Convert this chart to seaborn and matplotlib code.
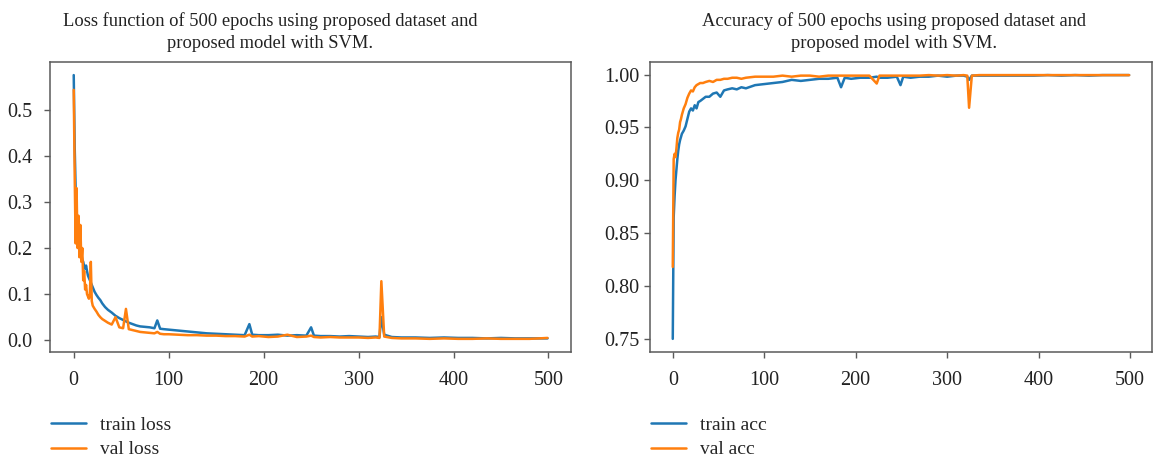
import matplotlib
matplotlib.use("Agg")
import matplotlib.pyplot as plt
import pandas as pd
import seaborn as sns

loss_epochs = [0, 1, 2, 3, 4, 5, 6, 7, 8, 9, 10, 11, 12, 13, 14, 15, 16, 17, 18, 19,
               20, 22, 24, 26, 28, 30, 33, 36, 40, 44, 48, 52, 55, 58, 62, 66, 70, 75,
               80, 85, 88, 91, 95, 100, 110, 120, 130, 140, 150, 160, 170, 180, 185,
               188, 195, 205, 215, 225, 235, 245, 250, 253, 260, 270, 280, 290, 300,
               310, 318, 322, 324, 327, 335, 345, 360, 375, 390, 405, 420, 435, 450,
               465, 480, 490, 499]
train_loss = [0.575, 0.42, 0.33, 0.28, 0.25, 0.23, 0.21, 0.195, 0.185, 0.175, 0.17,
              0.16, 0.155, 0.162, 0.15, 0.14, 0.135, 0.13, 0.125, 0.12,
              0.115, 0.105, 0.098, 0.092, 0.087, 0.08, 0.072, 0.066, 0.06, 0.053,
              0.048, 0.044, 0.041, 0.038, 0.035, 0.032, 0.03, 0.029,
              0.028, 0.026, 0.043, 0.025, 0.024, 0.023, 0.021, 0.019, 0.017, 0.015,
              0.014, 0.013, 0.012, 0.011, 0.035,
              0.012, 0.011, 0.011, 0.012, 0.010, 0.011, 0.010, 0.028, 0.010, 0.009,
              0.009, 0.008, 0.009, 0.008,
              0.007, 0.008, 0.007, 0.050, 0.012, 0.007, 0.006, 0.006, 0.005, 0.006,
              0.005, 0.005, 0.004, 0.005,
              0.004, 0.004, 0.004, 0.004]
val_loss = [0.543, 0.36, 0.21, 0.33, 0.20, 0.27, 0.18, 0.25, 0.17, 0.20, 0.13, 0.15,
            0.11, 0.12, 0.10, 0.095, 0.09, 0.10, 0.17, 0.085,
            0.075, 0.068, 0.062, 0.055, 0.05, 0.046, 0.042, 0.038, 0.034, 0.05,
            0.028, 0.026, 0.068, 0.024, 0.022, 0.02, 0.018, 0.017,
            0.016, 0.015, 0.018, 0.014, 0.013, 0.013, 0.012, 0.011, 0.011, 0.010,
            0.010, 0.009, 0.009, 0.008, 0.012,
            0.008, 0.009, 0.007, 0.008, 0.012, 0.007, 0.008, 0.010, 0.007, 0.006,
            0.007, 0.006, 0.006, 0.006,
            0.005, 0.006, 0.005, 0.128, 0.008, 0.005, 0.004, 0.004, 0.003, 0.004,
            0.003, 0.003, 0.004, 0.003,
            0.003, 0.003, 0.004, 0.005]

acc_epochs = [0, 1, 2, 3, 4, 5, 6, 7, 8, 9, 10, 12, 14, 16, 18, 20, 22, 24, 26, 28,
              30, 33, 36, 40, 44, 48, 52, 56, 60, 65, 70, 75, 80, 90, 100, 110, 120,
              130, 140, 150, 160, 170, 180, 184, 188, 195, 205, 215, 223, 226, 235,
              245, 249, 252, 260, 270, 280, 290, 300, 310, 318, 322, 324, 327, 335,
              350, 365, 380, 395, 410, 425, 440, 455, 470, 485, 499]
train_acc = [0.75, 0.865, 0.885, 0.90, 0.91, 0.92, 0.928, 0.934, 0.938, 0.941, 0.944,
             0.947, 0.951, 0.958, 0.965, 0.968, 0.966, 0.971, 0.968, 0.974,
             0.975, 0.977, 0.979, 0.979, 0.982, 0.983, 0.979, 0.985, 0.986, 0.987,
             0.986, 0.988, 0.987, 0.990, 0.991, 0.992, 0.993,
             0.995, 0.994, 0.995, 0.996, 0.996, 0.997, 0.988, 0.997, 0.996, 0.997,
             0.997, 0.998, 0.997, 0.997,
             0.998, 0.990, 0.998, 0.997, 0.998, 0.998, 0.999, 0.998, 0.999, 0.999,
             0.998, 0.995, 0.999, 0.999,
             0.999, 0.999, 0.999, 0.999, 0.9995, 0.999, 0.9995, 0.999, 0.9995,
             0.9995, 0.9995]
val_acc = [0.818, 0.92, 0.925, 0.922, 0.93, 0.94, 0.945, 0.948, 0.955, 0.958, 0.962,
           0.968, 0.972, 0.978, 0.982, 0.985, 0.984, 0.988, 0.990, 0.991,
           0.992, 0.992, 0.993, 0.994, 0.993, 0.995, 0.995, 0.996, 0.996, 0.997,
           0.997, 0.996, 0.997, 0.998, 0.998, 0.998, 0.999,
           0.998, 0.999, 0.999, 0.998, 0.999, 0.999, 0.999, 0.999, 0.999, 0.999,
           0.999, 0.9915, 0.999, 0.999,
           0.999, 0.999, 0.999, 0.999, 0.999, 0.9995, 0.999, 0.9995, 0.999, 0.9995,
           0.999, 0.9686, 0.999, 0.9995,
           0.9995, 0.9995, 0.9995, 0.9995, 0.9995, 0.9995, 0.9995, 0.9995, 0.9995,
           0.9995, 0.9995]

loss_ticks = [0.0, 0.1, 0.2, 0.3, 0.4, 0.5]
acc_ticks = [0.75, 0.80, 0.85, 0.90, 0.95, 1.00]
epoch_ticks = [0, 100, 200, 300, 400, 500]

loss_df = pd.DataFrame({"epoch": loss_epochs, "train loss": train_loss, "val loss": val_loss})
acc_df = pd.DataFrame({"epoch": acc_epochs, "train acc": train_acc, "val acc": val_acc})

sns.set_theme(style="ticks")
plt.rcParams["font.family"] = ["Liberation Serif", "DejaVu Serif"]
plt.rcParams["axes.edgecolor"] = "#5a5a5a"
plt.rcParams["xtick.color"] = "#5a5a5a"
plt.rcParams["ytick.color"] = "#5a5a5a"
plt.rcParams["xtick.labelcolor"] = "#222222"
plt.rcParams["ytick.labelcolor"] = "#222222"

blue = "#1f77b4"
orange = "#ff7f0e"

figure = plt.figure(figsize=(11.53, 4.62), dpi=100)
loss_axis = figure.add_axes([0.0434, 0.238, 0.452, 0.628])
acc_axis = figure.add_axes([0.5637, 0.238, 0.4354, 0.628])

panels = [
    (loss_axis, loss_df, ["train loss", "val loss"], loss_ticks, "{:.1f}", 8.5,
     "Loss function of 500 epochs using proposed dataset and\nproposed model with SVM.", 0.422),
    (acc_axis, acc_df, ["train acc", "val acc"], acc_ticks, "{:.2f}", 3.5,
     "Accuracy of 500 epochs using proposed dataset and\nproposed model with SVM.", 0.486),
]

for axis, frame, columns, yticks, fmt, ypad, title, title_x in panels:
    for column, color in zip(columns, [blue, orange]):
        sns.lineplot(data=frame, x="epoch", y=column, ax=axis, color=color,
                     linewidth=1.8, label=column)
    axis.set_xlabel("")
    axis.set_ylabel("")
    axis.set_xticks(epoch_ticks)
    axis.set_yticks(yticks)
    axis.set_yticklabels([fmt.format(t) for t in yticks])
    axis.tick_params(labelsize=14.5, length=4, width=1)
    axis.tick_params(axis="x", pad=9.5)
    axis.tick_params(axis="y", pad=ypad)
    axis.set_title(title, fontsize=13.3, x=title_x, pad=10, linespacing=1.35, color="#222222")
    for spine in axis.spines.values():
        spine.set_linewidth(1.1)
    axis.legend(loc="upper left", bbox_to_anchor=(0.002, -0.222), frameon=False,
                fontsize=14, handlelength=1.8, handletextpad=0.72, labelspacing=0.35,
                borderaxespad=0, borderpad=0)

figure.savefig("out.png", dpi=100)
